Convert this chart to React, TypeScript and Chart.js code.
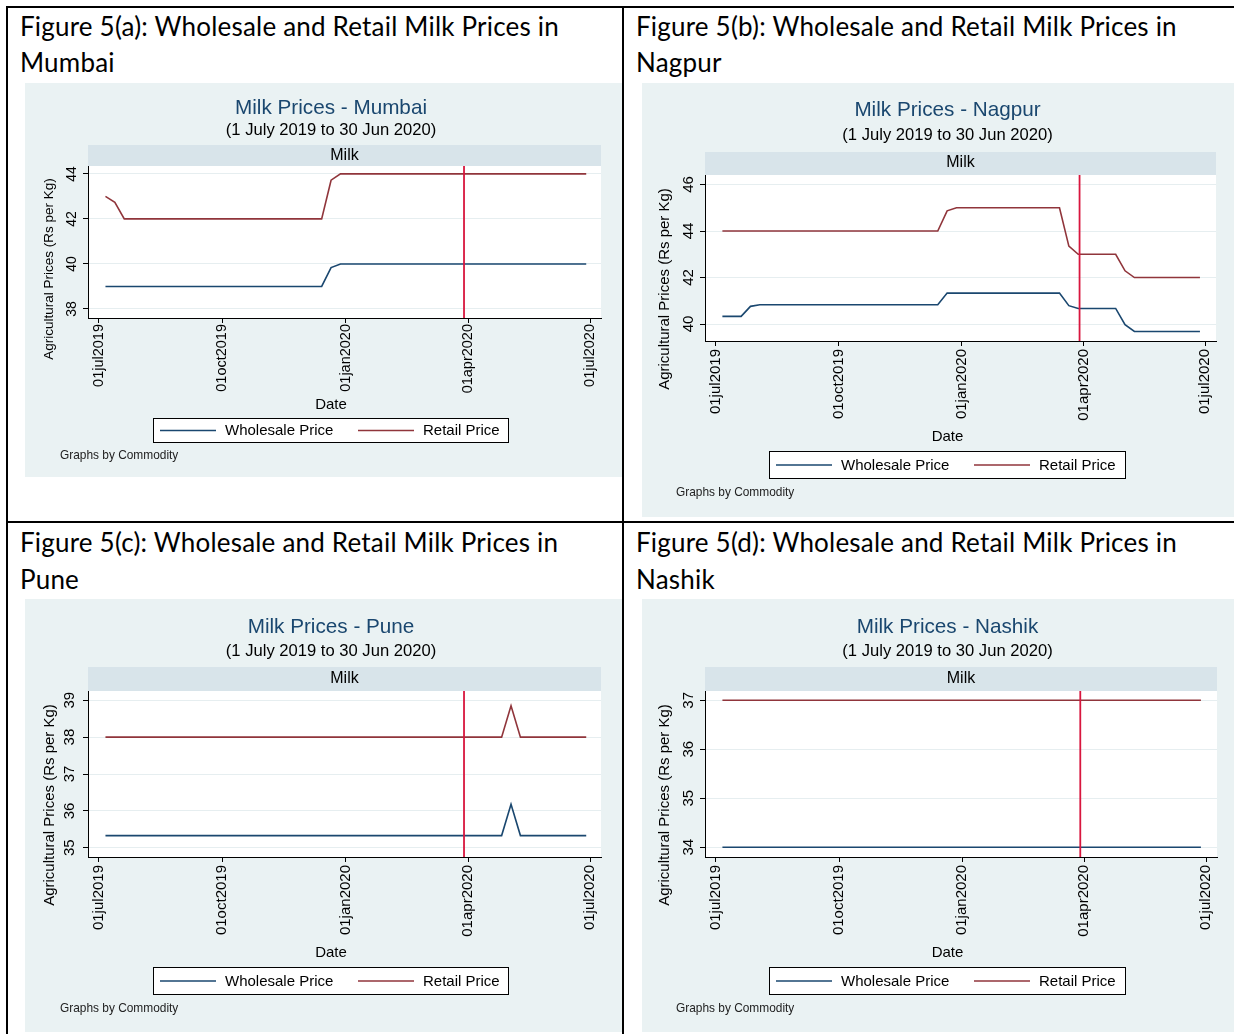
import React, { useEffect, useRef } from "react";
import { Chart, registerables } from "chart.js";

Chart.register(...registerables);
Chart.defaults.font.family = "'Liberation Sans', Arial, sans-serif";

// ---------- data ----------
const seriesNames = ["Wholesale Price", "Retail Price"];
const cities = ["Mumbai", "Nagpur", "Pune", "Nashik"];
const figureLetters = ["a", "b", "c", "d"];
const stripLabel = "Milk";
const subtitleText = "(1 July 2019 to 30 Jun 2020)";
const yAxisTitle = "Agricultural Prices (Rs per Kg)";
const xAxisTitle = "Date";
const noteText = "Graphs by Commodity";

// x values are days since 01jul2019
const tickDays = [0, 92, 184, 275, 366];
const tickLabels = ["01jul2019", "01oct2019", "01jan2020", "01apr2020", "01jul2020"];
const lockdownDay = 272;
const xRange = [-8, 374];

const mumbaiDays = [5, 12, 19, 166, 173, 180, 363];
const mumbaiWholesale = [39, 39, 39, 39, 39.84, 40, 40];
const mumbaiRetail = [43, 42.74, 42, 42, 43.72, 44, 44];
const mumbaiYTicks = [38, 40, 42, 44];
const mumbaiYRange = [37.6, 44.35];

const nagpurDays = [5, 19, 26, 33, 166, 173, 180, 257, 264, 271, 299, 306, 313, 362];
const nagpurWholesale = [40.33, 40.33, 40.76, 40.83, 40.83, 41.33, 41.33, 41.33, 40.79, 40.67, 40.67, 39.97, 39.68, 39.68];
const nagpurRetail = [44, 44, 44, 44, 44, 44.87, 45, 45, 43.35, 43, 43, 42.29, 42, 42];
const nagpurYTicks = [40, 42, 44, 46];
const nagpurYRange = [39.27, 46.41];

const puneDays = [5, 300, 307, 314, 363];
const puneWholesale = [35.33, 35.33, 36.18, 35.33, 35.33];
const puneRetail = [38, 38, 38.85, 38, 38];
const puneYTicks = [35, 36, 37, 38, 39];
const puneYRange = [34.75, 39.25];

const nashikDays = [5, 362];
const nashikWholesale = [34, 34];
const nashikRetail = [37, 37];
const nashikYTicks = [34, 35, 36, 37];
const nashikYRange = [33.8, 37.19];

// ---------- styles ----------
const NAVY = "#1a476f";
const MAROON = "#90353b";
const RED = "#d8163e";
const GRAPH_BG = "#eaf2f3";
const STRIP_BG = "#d8e4ea";
const GRID = "#e6eef0";
const FONT = "'Liberation Sans', Arial, sans-serif";

type Rect = { x: number; y: number; w: number; h: number };
type Panel = {
  idx: number;
  capX: number;
  capTop: number;
  bg: Rect;
  plot: { l: number; t: number; r: number; b: number };
  stripTop: number;
  titleY: number;
  subY: number;
  stripTextY: number;
  centerX: number;
  yTitleX: number;
  yTitleY: number;
  yTitleSize: number;
  yTickSize: number;
  yTickPad: number;
  xTickSize: number;
  xTickPad: number;
  dateY: number;
  legend: Rect;
  noteX: number;
  noteY: number;
  days: number[];
  wholesale: number[];
  retail: number[];
  yTicks: number[];
  yRange: number[];
};

const panels: Panel[] = [
  {
    idx: 0, capX: 20, capTop: 7.5,
    bg: { x: 25, y: 83, w: 597, h: 394 },
    plot: { l: 88, t: 166, r: 601, b: 318 },
    stripTop: 145, titleY: 108, subY: 130.5, stripTextY: 155.5, centerX: 331,
    yTitleX: 49, yTitleY: 269, yTitleSize: 13.5,
    yTickSize: 14, yTickPad: 3, xTickSize: 14.5, xTickPad: 1,
    dateY: 405, legend: { x: 153, y: 418, w: 356, h: 25 }, noteX: 60, noteY: 456,
    days: mumbaiDays, wholesale: mumbaiWholesale, retail: mumbaiRetail,
    yTicks: mumbaiYTicks, yRange: mumbaiYRange,
  },
  {
    idx: 1, capX: 636, capTop: 7.5,
    bg: { x: 642, y: 83, w: 592, h: 434 },
    plot: { l: 705, t: 175, r: 1216, b: 341 },
    stripTop: 152, titleY: 110.5, subY: 135, stripTextY: 163, centerX: 947.5,
    yTitleX: 665, yTitleY: 289, yTitleSize: 15,
    yTickSize: 15, yTickPad: 3, xTickSize: 15, xTickPad: 3,
    dateY: 437, legend: { x: 769, y: 451, w: 357, h: 28 }, noteX: 676, noteY: 493,
    days: nagpurDays, wholesale: nagpurWholesale, retail: nagpurRetail,
    yTicks: nagpurYTicks, yRange: nagpurYRange,
  },
  {
    idx: 2, capX: 20, capTop: 524,
    bg: { x: 25, y: 599, w: 597, h: 433 },
    plot: { l: 88, t: 691, r: 601, b: 857 },
    stripTop: 667, titleY: 627, subY: 651, stripTextY: 679, centerX: 331,
    yTitleX: 50, yTitleY: 805, yTitleSize: 15,
    yTickSize: 15, yTickPad: 5, xTickSize: 15, xTickPad: 3,
    dateY: 953, legend: { x: 153, y: 967, w: 356, h: 28 }, noteX: 60, noteY: 1009,
    days: puneDays, wholesale: puneWholesale, retail: puneRetail,
    yTicks: puneYTicks, yRange: puneYRange,
  },
  {
    idx: 3, capX: 636, capTop: 524,
    bg: { x: 642, y: 599, w: 592, h: 433 },
    plot: { l: 705, t: 691, r: 1217, b: 857 },
    stripTop: 667, titleY: 627, subY: 651, stripTextY: 679, centerX: 947.5,
    yTitleX: 665, yTitleY: 805, yTitleSize: 15,
    yTickSize: 15, yTickPad: 3, xTickSize: 15, xTickPad: 3,
    dateY: 953, legend: { x: 769, y: 967, w: 357, h: 28 }, noteX: 676, noteY: 1009,
    days: nashikDays, wholesale: nashikWholesale, retail: nashikRetail,
    yTicks: nashikYTicks, yRange: nashikYRange,
  },
];

const Y_AXIS_W = 45;
const X_AXIS_H = 80;

const stataPlugin = {
  id: "stataFrame",
  beforeDraw(chart: any, _a: any, o: any) {
    const { ctx, chartArea: ca, width, height } = chart;
    ctx.save();
    ctx.fillStyle = GRAPH_BG;
    ctx.fillRect(0, 0, width, height);
    ctx.fillStyle = STRIP_BG;
    ctx.fillRect(ca.left, o.stripTop, ca.right - ca.left, ca.top - o.stripTop);
    ctx.fillStyle = "#ffffff";
    ctx.fillRect(ca.left, ca.top, ca.right - ca.left, ca.bottom - ca.top);
    ctx.restore();
  },
  afterDraw(chart: any, _a: any, o: any) {
    const { ctx, chartArea: ca } = chart;
    ctx.save();
    ctx.textBaseline = "middle";
    ctx.textAlign = "center";
    // title
    ctx.fillStyle = NAVY;
    ctx.font = `20.7px ${FONT}`;
    ctx.fillText(o.title, o.centerX, o.titleY);
    ctx.fillStyle = "#000";
    ctx.font = `16.6px ${FONT}`;
    ctx.fillText(o.subtitle, o.centerX, o.subY);
    // strip
    ctx.font = `16px ${FONT}`;
    ctx.fillText(o.strip, (ca.left + ca.right) / 2, o.stripTextY);
    // x title
    ctx.font = `15px ${FONT}`;
    ctx.fillText(o.xTitle, o.centerX, o.dateY);
    // y title
    ctx.save();
    ctx.translate(o.yTitleX, o.yTitleY);
    ctx.rotate(-Math.PI / 2);
    ctx.font = `${o.yTitleSize}px ${FONT}`;
    ctx.fillText(o.yTitle, 0, 0);
    ctx.restore();
    // legend box
    const L = o.legend;
    ctx.fillStyle = "#fff";
    ctx.fillRect(L.x, L.y, L.w, L.h);
    ctx.strokeStyle = "#000";
    ctx.lineWidth = 1;
    ctx.strokeRect(L.x + 0.5, L.y + 0.5, L.w - 1, L.h - 1);
    const items = chart.data.datasets.filter((d: any) => d.label);
    const cy = L.y + L.h / 2;
    ctx.font = `15px ${FONT}`;
    ctx.textAlign = "left";
    items.forEach((d: any, i: number) => {
      const x0 = L.x + 7 + i * 198;
      ctx.strokeStyle = d.borderColor;
      ctx.lineWidth = 1.5;
      ctx.beginPath();
      ctx.moveTo(x0, cy);
      ctx.lineTo(x0 + 56, cy);
      ctx.stroke();
      ctx.fillStyle = "#000";
      ctx.fillText(d.label, x0 + 65, cy + 0.5);
    });
    // note
    ctx.font = `11.9px ${FONT}`;
    ctx.fillStyle = "#222";
    ctx.fillText(o.note, o.noteX, o.noteY);
    ctx.restore();
  },
};

function PanelChart({ p }: { p: Panel }) {
  const ref = useRef<HTMLCanvasElement | null>(null);
  useEffect(() => {
    const c = ref.current!;
    const bx = p.bg.x, by = p.bg.y;
    const pts = (d: number[], v: number[]) => d.map((x, i) => ({ x, y: v[i] }));
    const chart = new Chart(c, {
      type: "line",
      data: {
        datasets: [
          { label: seriesNames[0], data: pts(p.days, p.wholesale), borderColor: NAVY, borderWidth: 1.6, pointRadius: 0, tension: 0, order: 2 },
          { label: seriesNames[1], data: pts(p.days, p.retail), borderColor: MAROON, borderWidth: 1.6, pointRadius: 0, tension: 0, order: 2 },
          { label: "", data: [{ x: lockdownDay, y: p.yRange[0] }, { x: lockdownDay, y: p.yRange[1] }], borderColor: RED, borderWidth: 1.8, pointRadius: 0, order: 1 },
        ],
      },
      options: {
        animation: false,
        responsive: false,
        devicePixelRatio: 1,
        events: [],
        layout: {
          autoPadding: false,
          padding: {
            left: p.plot.l - bx - Y_AXIS_W,
            top: p.plot.t - by,
            right: bx + p.bg.w - p.plot.r,
            bottom: by + p.bg.h - p.plot.b - X_AXIS_H,
          },
        },
        plugins: {
          legend: { display: false },
          tooltip: { enabled: false },
          title: { display: false },
          stataFrame: {
            title: `Milk Prices - ${cities[p.idx]}`,
            subtitle: subtitleText,
            strip: stripLabel,
            xTitle: xAxisTitle,
            yTitle: yAxisTitle,
            note: noteText,
            stripTop: p.stripTop - by,
            titleY: p.titleY - by,
            subY: p.subY - by,
            stripTextY: p.stripTextY - by,
            centerX: p.centerX - bx,
            yTitleX: p.yTitleX - bx,
            yTitleY: p.yTitleY - by,
            yTitleSize: p.yTitleSize,
            dateY: p.dateY - by,
            legend: { x: p.legend.x - bx, y: p.legend.y - by, w: p.legend.w, h: p.legend.h },
            noteX: p.noteX - bx,
            noteY: p.noteY - by,
          },
        } as any,
        scales: {
          x: {
            type: "linear",
            min: xRange[0],
            max: xRange[1],
            afterBuildTicks: (s: any) => { s.ticks = tickDays.map((value) => ({ value })); },
            afterFit: (s: any) => { s.height = X_AXIS_H; },
            grid: { drawOnChartArea: false, drawTicks: true, tickLength: 5, tickColor: "#000", tickWidth: 1 },
            border: { display: true, color: "#000", width: 1 },
            ticks: {
              autoSkip: false,
              minRotation: 90,
              maxRotation: 90,
              padding: p.xTickPad,
              color: "#000",
              font: { size: p.xTickSize },
              callback: (_v: any, i: number) => tickLabels[i],
            },
          },
          y: {
            type: "linear",
            min: p.yRange[0],
            max: p.yRange[1],
            afterBuildTicks: (s: any) => { s.ticks = p.yTicks.map((value) => ({ value })); },
            afterFit: (s: any) => { s.width = Y_AXIS_W; },
            grid: { color: GRID, lineWidth: 1, drawTicks: true, tickLength: 5, tickColor: "#000", tickWidth: 1 },
            border: { display: true, color: "#000", width: 1 },
            ticks: {
              minRotation: 90,
              maxRotation: 90,
              crossAlign: "center",
              padding: p.yTickPad,
              color: "#000",
              font: { size: p.yTickSize },
              callback: (v: any) => String(v),
            },
          },
        },
      },
      plugins: [stataPlugin as any],
    });
    return () => chart.destroy();
  }, [p]);
  return (
    <canvas
      ref={ref}
      width={p.bg.w}
      height={p.bg.h}
      style={{ position: "absolute", left: p.bg.x, top: p.bg.y, width: p.bg.w, height: p.bg.h }}
    />
  );
}

export default function App() {
  return (
    <div style={{ position: "absolute", left: 0, top: 0, width: 1234, height: 1034, background: "#fff", overflow: "hidden" }}>
      {panels.map((p) => (
        <React.Fragment key={p.idx}>
          <div
            style={{
              position: "absolute",
              left: p.capX,
              top: p.capTop,
              fontFamily: "Lato, 'Open Sans', sans-serif",
              fontSize: 26,
              letterSpacing: "0.2px",
              lineHeight: "36.5px",
              color: "#000",
              whiteSpace: "nowrap",
            }}
          >
            <div>{`Figure 5(${figureLetters[p.idx]}): Wholesale and Retail Milk Prices in`}</div>
            <div>{cities[p.idx]}</div>
          </div>
          <PanelChart p={p} />
        </React.Fragment>
      ))}
      <div style={{ position: "absolute", left: 6, top: 6, width: 1228, height: 2, background: "#000" }} />
      <div style={{ position: "absolute", left: 6, top: 6, width: 2, height: 1028, background: "#000" }} />
      <div style={{ position: "absolute", left: 622, top: 6, width: 2, height: 1028, background: "#000" }} />
      <div style={{ position: "absolute", left: 6, top: 521, width: 1228, height: 2, background: "#000" }} />
    </div>
  );
}
